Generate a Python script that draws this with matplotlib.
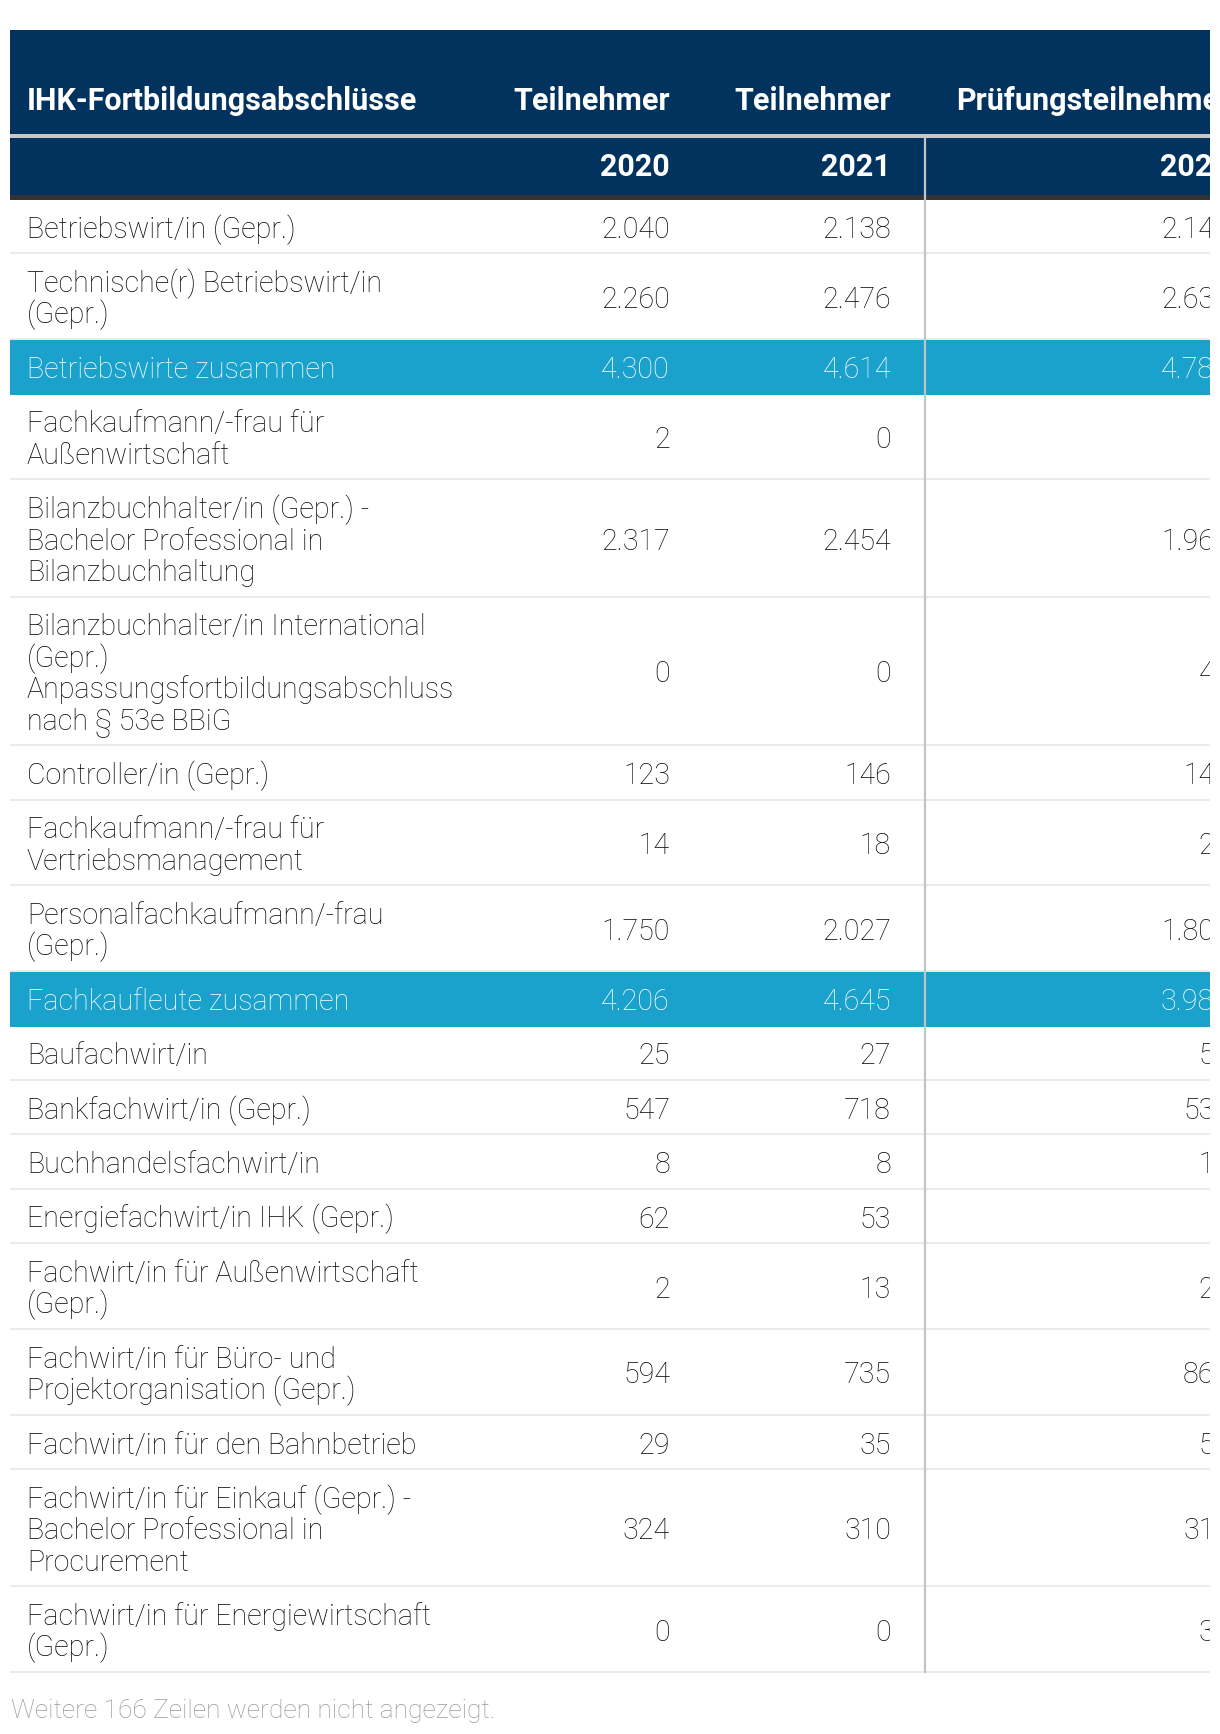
import matplotlib.pyplot as plt
from matplotlib.patches import Rectangle

plt.rcParams['font.family'] = ['Roboto', 'DejaVu Sans']

# table content
labels = [
    "Betriebswirt/in (Gepr.)",
    "Technische(r) Betriebswirt/in\n(Gepr.)",
    "Betriebswirte zusammen",
    "Fachkaufmann/-frau für\nAußenwirtschaft",
    "Bilanzbuchhalter/in (Gepr.) -\nBachelor Professional in\nBilanzbuchhaltung",
    "Bilanzbuchhalter/in International\n(Gepr.)\nAnpassungsfortbildungsabschluss\nnach § 53e BBiG",
    "Controller/in (Gepr.)",
    "Fachkaufmann/-frau für\nVertriebsmanagement",
    "Personalfachkaufmann/-frau\n(Gepr.)",
    "Fachkaufleute zusammen",
    "Baufachwirt/in",
    "Bankfachwirt/in (Gepr.)",
    "Buchhandelsfachwirt/in",
    "Energiefachwirt/in IHK (Gepr.)",
    "Fachwirt/in für Außenwirtschaft\n(Gepr.)",
    "Fachwirt/in für Büro- und\nProjektorganisation (Gepr.)",
    "Fachwirt/in für den Bahnbetrieb",
    "Fachwirt/in für Einkauf (Gepr.) -\nBachelor Professional in\nProcurement",
    "Fachwirt/in für Energiewirtschaft\n(Gepr.)",
]
teiln_2020 = [2040, 2260, 4300, 2, 2317, 0, 123, 14, 1750, 4206, 25, 547, 8, 62, 2, 594, 29, 324, 0]
teiln_2021 = [2138, 2476, 4614, 0, 2454, 0, 146, 18, 2027, 4645, 27, 718, 8, 53, 13, 735, 35, 310, 0]
pruef_2022 = [2143, 2639, 4782, 1, 1964, 42, 148, 24, 1803, 3982, 51, 536, 12, 7, 23, 864, 52, 315, 34]
total_rows = {2, 9}

col_titles = ["IHK-Fortbildungsabschlüsse", "Teilnehmer", "Teilnehmer", "Prüfungsteilnehmer"]
col_years = ["", "2020", "2021", "2022"]
footnote = "Weitere 166 Zeilen werden nicht angezeigt."

NAVY = "#02335f"
BLUE = "#1aa2cc"
TXT = "#0c0c0c"

def fmt(v):
    return f"{v:,}".replace(",", ".")

W, H = 1220, 1734
fig = plt.figure(figsize=(W / 100, H / 100), dpi=100)
ax = fig.add_axes([0, 0, 1210 / W, 1])
ax.set_xlim(0, 1210)
ax.set_ylim(H, 0)
ax.axis('off')

left = 10
text_x = 27
col_right = [None, 670, 891, 1230]
div_x = 925
fs = 20.6
fs_head = 22.0
step = 31.4

# header
ax.add_patch(Rectangle((left, 30), 1300, 104, color=NAVY, lw=0))
ax.add_patch(Rectangle((left, 134), 1300, 4, color="#c8c8c8", lw=0))
ax.add_patch(Rectangle((left, 138), 1300, 57, color=NAVY, lw=0))
ax.add_patch(Rectangle((left, 195), 1300, 5, color="#333333", lw=0))
for i, t in enumerate(col_titles):
    x = text_x if i == 0 else col_right[i]
    ha = 'left' if i == 0 else 'right'
    ax.text(x, 110, t, ha=ha, va='baseline', color='white', fontsize=fs_head, fontweight='bold', clip_on=True)
    if col_years[i]:
        ax.text(x, 176, col_years[i], ha=ha, va='baseline', color='white', fontsize=fs_head, fontweight='bold', clip_on=True)

# body rows
y = 200
for r, lab in enumerate(labels):
    lines = lab.split("\n")
    h = 23 + step * len(lines)
    hl = r in total_rows
    if hl:
        ax.add_patch(Rectangle((left, y), 1300, h, color=BLUE, lw=0))
    else:
        ax.add_patch(Rectangle((left, y + h - 2), 1300, 2, color="#ebebeb", lw=0))
    c = 'white' if hl else TXT
    mid = y + h / 2 + 10.5
    base0 = mid - (len(lines) - 1) * step / 2
    for k, ln in enumerate(lines):
        ax.text(text_x, base0 + k * step, ln, ha='left', va='baseline', color=c,
                fontsize=fs, fontweight='light', clip_on=True)
    for xr, vals in zip(col_right[1:], [teiln_2020, teiln_2021, pruef_2022]):
        ax.text(xr, mid, fmt(vals[r]), ha='right', va='baseline', color=c,
                fontsize=fs, fontweight='light', clip_on=True)
    y += h

ax.plot([div_x, div_x], [138, y], color="#c4c4c4", lw=1.6, solid_capstyle='butt')

ax.text(11, 1718, footnote, ha='left', va='baseline', color="#9a9a9a", fontsize=19, fontweight='light')

fig.savefig("out.png", dpi=100, facecolor='white')
